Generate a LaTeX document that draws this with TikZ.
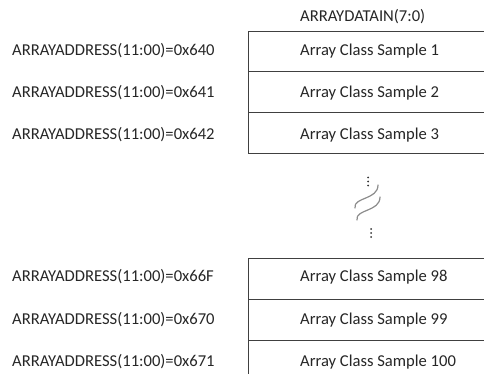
\documentclass[tikz,border=0pt]{standalone}
\usepackage{fontspec}
\setmainfont{Carlito}
\begin{document}
\begin{tikzpicture}[x=1pt,y=-1pt,
  lbl/.style={anchor=base west,inner sep=0pt,font=\fontsize{16.6}{18}\selectfont,text=black!85},
  rule/.style={draw=black!75,line width=0.9pt},
  wave/.style={draw=black!45,line width=1.2pt,line cap=round},
  dot/.style={fill=black!80}]
\useasboundingbox (0,0) rectangle (484,374);
% header
\node[lbl] (hdr) at (300,21.7) {ARRAYDATAIN(7:0)};
% top group
\draw[rule] (484,31) -- (248,31) -- (248,153) -- (484,153);
\draw[rule] (248,71.5) -- (484,71.5);
\draw[rule] (248,112.3) -- (484,112.3);
% bottom group
\draw[rule] (484,258) -- (248,258) -- (248,374);
\draw[rule] (248,299) -- (484,299);
\draw[rule] (248,340) -- (484,340);
% left labels
\node[lbl] (a1) at (12,55.5) {ARRAYADDRESS(11:00)=0x640};
\node[lbl] (a2) at (12,97.8) {ARRAYADDRESS(11:00)=0x641};
\node[lbl] (a3) at (12,140) {ARRAYADDRESS(11:00)=0x642};
\node[lbl] (a4) at (12,281.8) {ARRAYADDRESS(11:00)=0x66F};
\node[lbl] (a5) at (12,324.2) {ARRAYADDRESS(11:00)=0x670};
\node[lbl] (a6) at (12,366) {ARRAYADDRESS(11:00)=0x671};
% box texts
\node[lbl] (s1) at (300,55.8) {Array Class Sample 1};
\node[lbl] (s2) at (300,97.8) {Array Class Sample 2};
\node[lbl] (s3) at (300,140) {Array Class Sample 3};
\node[lbl] (s4) at (300,281.8) {Array Class Sample 98};
\node[lbl] (s5) at (300,324.2) {Array Class Sample 99};
\node[lbl] (s6) at (300,366) {Array Class Sample 100};
% dots
\foreach \yy in {177.5,181.5,185.5} \fill[dot] (368,\yy) circle (1);
\foreach \yy in {229,233,237} \fill[dot] (371,\yy) circle (1);
% break wave
\draw[wave] (355,208) .. controls (353,197) and (378,200) .. (378,185);
\draw[wave] (357,220) .. controls (355,209) and (380,212) .. (380,197);
\end{tikzpicture}
\end{document}
